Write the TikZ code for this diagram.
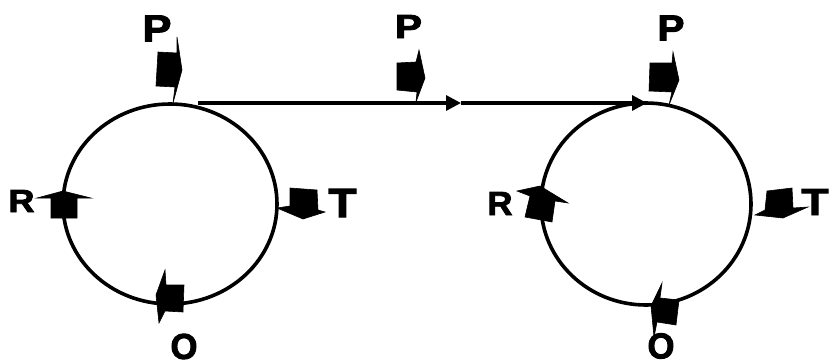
\documentclass[tikz,border=0pt]{standalone}
\usepackage{fontspec}
\setmainfont{Liberation Sans}
\newfontfamily\heavy[FakeBold=2.5]{Liberation Sans Bold}
\usetikzlibrary{arrows.meta}
\begin{document}
\begin{tikzpicture}[x=1pt,y=-1pt,
  ring/.style={line width=3.6pt},
  flow/.style={line width=3.2pt,-{Triangle[length=15pt,width=15pt]}},
  glyph/.style={fill=black,draw=black,line width=0.6pt,line join=miter},
  lbl/.style={inner sep=0pt,anchor=center}]
\useasboundingbox (0,0) rectangle (830,362);
% circles
\draw[ring] (170,204) ellipse [x radius=107, y radius=100];
\draw[ring] (646,204) ellipse [x radius=105, y radius=101];
% connector
\coordinate (ls) at (198,103);
\coordinate (lm) at (461,103);
\coordinate (le) at (647,103);
\draw[flow] (ls) -- (lm);
\draw[flow] (lm) -- (le);
% glyphs, left circle
\fill[glyph] (158,52) -- (177,53) -- (177,37) -- (182,70) -- (173,103) -- (175,87) -- (156,86) -- cycle;
\fill[glyph] (290,188) -- (317,190) -- (318,210) -- (325,212) -- (303,219) -- (277,208) -- (290,206) -- cycle;
\fill[glyph] (37,198) -- (63,191) -- (91,198) -- (77,198) -- (77,218) -- (51,218) -- (51,198) -- cycle;
\fill[glyph] (165,270) -- (166,285) -- (184,285) -- (183,312) -- (165,311) -- (159,323) -- (156,295) -- cycle;
% glyph on connector
\fill[glyph] (397,63) -- (416,62) -- (419,50) -- (425,78) -- (416,102) -- (417,92) -- (397,90) -- cycle;
% glyphs, right circle
\fill[glyph] (650,63) -- (672,63) -- (673,52) -- (679,80) -- (669,105) -- (672,92) -- (649,91) -- cycle;
\fill[glyph] (767,191) -- (792,188) -- (793,208) -- (808,207) -- (783,218) -- (755,215) -- (765,210) -- cycle;
\fill[glyph] (517,191) -- (540,186) -- (568,203) -- (555,201) -- (552,222) -- (525,217) -- (530,196) -- cycle;
\fill[glyph] (662,283) -- (660,298) -- (679,300) -- (676,325) -- (657,322) -- (654,337) -- (651,306) -- cycle;
% labels
\node[lbl] (pl) at (157,28.5) {\resizebox{29pt}{26pt}{\heavy P}};
\node[lbl] (pm) at (408.5,26.5) {\resizebox{27pt}{23pt}{\heavy P}};
\node[lbl] (pr) at (671,28) {\resizebox{27pt}{25pt}{\heavy P}};
\node[lbl] (tl) at (342.5,203) {\resizebox{28pt}{28pt}{\heavy T}};
\node[lbl] (tr) at (815,202) {\resizebox{27pt}{26pt}{\heavy T}};
\node[lbl] (rl) at (21.5,201) {\resizebox{26pt}{22pt}{\heavy R}};
\node[lbl] (rr) at (500,203.5) {\resizebox{25pt}{23pt}{\heavy R}};
\node[lbl] (ol) at (184,346.5) {\resizebox{27pt}{25pt}{\heavy O}};
\node[lbl] (or) at (661,346) {\resizebox{27pt}{25pt}{\heavy O}};
\end{tikzpicture}
\end{document}
